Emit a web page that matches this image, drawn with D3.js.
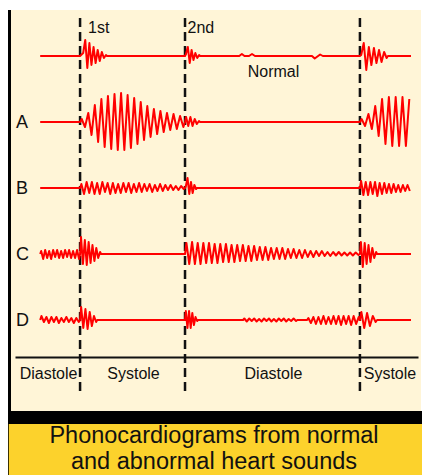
<!DOCTYPE html>
<html><head><meta charset="utf-8">
<script src="https://cdn.jsdelivr.net/npm/d3@7"></script>
<style>html,body{margin:0;padding:0;background:#fff;} svg{display:block;}</style>
</head><body>
<svg id="c" width="422" height="475"></svg>
<script>
// ---------- data (time in ms, S1 = 0; amplitudes in arbitrary units) ----------
const rows = ["Normal", "A", "B", "C", "D"];
const rowLetters = ["", "A", "B", "C", "D"];
const soundMarks = [{label: "1st", t: 0}, {label: "2nd", t: 300}, {label: "", t: 800}];
const phases = [
  {label: "Diastole", from: -186, to: 0},
  {label: "Systole", from: 0, to: 300},
  {label: "Diastole", from: 300, to: 800},
  {label: "Systole", from: 800, to: 966}
];
const timeSpan = [-186, 966];
const traceSpan = [-114, 946];
const normalLabel = "Normal";
const titleLines = ["Phonocardiograms from normal", "and abnormal heart sounds"];

const traceNormal = [
  {start: 0, end: 77, peaks: [1, 3, 16, -12, 13, -9, 9, -7, 6, -5, 4, -2, 1]},
  {start: 300, end: 343, peaks: [2, 9, -7, 6, -4, 3, -2, 1]},
  {start: 455, end: 470, peaks: [2]},
  {start: 483, end: 500, peaks: [2]},
  {start: 663, end: 694, peaks: [-2.5, 1.5]},
  {start: 800, end: 880, peaks: [1, 13, -14, 9, -9, 8, -7, 6, -6, 4, -2]}
];
const traceA = [
  {start: 0, end: 300, peaks: [3, -5, 9, -13, 17, -20, 23, -25, 26, -27, 28, -28, 29, -28, 27, -26,
                               24, -22, 20, -18, 16, -15, 13, -12, 11, -10, 9, -8, 8, -7, 6, -5]},
  {start: 300, end: 343, peaks: [5, -4, 5, -4, 3, -2, 1]},
  {start: 800, end: 946, open: true, peaks: [3, -4, 8, -7, 16, -14, 23, -22, 25, -24, 25, -24, 25, -24, 23]}
];
const traceB = [
  {start: 0, end: 300, peaks: [4, -6, 6, -5, 6, -6, 5, -6, 6, -4, 5, -6, 5, -5, 4, -5, 5, -4, 5, -5,
                               4, -4, 5, -4, 4, -3, 4, -4, 3, -3, 4, -3, 3, -2, 3, -2, 2, -2, 2, -1]},
  {start: 300, end: 334, peaks: [2, 10, -6, 6, -5, 3, -1]},
  {start: 800, end: 946, open: true, peaks: [7, -7, 6, -7, 6, -6, 6, -8, 5, -6, 5, -5, 4, -5, 4, -4, 3, -4, 3, -3, 3, -3]}
];
const traceC = [
  {start: -114, end: 0, peaks: [3, -5, 4, -4, 3, -5, 4, -3, 4, -4, 3, -4, 4, -3, 4, -4, 3, -4, 4, -5]},
  {start: 0, end: 60, peaks: [17, -10, 14, -11, 12, -9, 9, -7, 6, -4, 2]},
  {start: 300, end: 800, peaks: [11, -10, 12, -10, 11, -10, 11, -9, 11, -9,
                                 10, -9, 10, -8, 10, -8, 9, -8, 9, -7,
                                 9, -7, 8, -7, 8, -6, 7, -6, 7, -6,
                                 6, -5, 6, -5, 6, -5, 5, -4, 5, -4,
                                 4, -4, 4, -3, 3, -3, 3, -2, 3, -2,
                                 2, -2, 2, -1.5, 2, -1.5, 1.5, -1.5, 1.5, -1.5, 1.5, -1]},
  {start: 800, end: 849, peaks: [12, -13, 11, -10, 9, -8, 6, -4, 2]}
];
const traceD = [
  {start: -114, end: 0, peaks: [4, -2, 3, -3, 3, -2, 3, -3, 2, -2, 3, -2, 2, -3, 2, -2]},
  {start: 0, end: 49, peaks: [13, -8, 11, -9, 8, -6, 4, -2]},
  {start: 300, end: 337, peaks: [9, -8, 9, -8, 7, -5, 3, -1]},
  {start: 466, end: 621, peaks: [1.5, -1.5, 1.5, -1, 1.5, -1.5, 1, -1.5, 1.5, -1, 1.5, -1.5, 1, -1.5, 1.5, -1, 1.5, -1.5, 1, -1, 1.5, -1]},
  {start: 649, end: 800, peaks: [2, -3, 3, -4, 3, -4, 4, -4, 3, -4, 4, -4, 4, -5, 4, -4, 4, -5, 4, -4, 3]},
  {start: 800, end: 849, peaks: [8, -8, 7, -6, 4, -2]}
];
const traces = [traceNormal, traceA, traceB, traceC, traceD];

// ---------- drawing ----------
const W = 422, H = 475;
const svg = d3.select("#c");
const font = "Arial, 'Liberation Sans', Helvetica, sans-serif";

svg.append("rect").attr("x", 0).attr("y", 0).attr("width", W).attr("height", H).attr("fill", "#ffffff");
svg.append("rect").attr("x", 11).attr("y", 10).attr("width", 410).attr("height", 401).attr("fill", "#FFF5D7");
svg.append("rect").attr("x", 8).attr("y", 10).attr("width", 3).attr("height", 402).attr("fill", "#000");
svg.append("rect").attr("x", 8).attr("y", 411).attr("width", W - 8).attr("height", 13).attr("fill", "#000");
svg.append("rect").attr("x", 8).attr("y", 424).attr("width", W - 8).attr("height", H - 424).attr("fill", "#FCD22C");
svg.append("rect").attr("x", 8).attr("y", 424).attr("width", 1).attr("height", H - 424).attr("fill", "#3a3000");

const x = d3.scaleLinear().domain(timeSpan).range([15, 418]);
const yRow = d3.scalePoint().domain(rows).range([56, 320]);
const amp = d3.scaleLinear().domain([-30, 30]).range([30, -30]);

// horizontal time axis (domain line only)
const axis = d3.axisBottom(x).tickValues([]).tickSizeOuter(0);
const axisG = svg.append("g").attr("transform", "translate(0,357)").call(axis);
axisG.select(".domain").attr("stroke", "#111").attr("stroke-width", 2);

// dashed event lines
svg.append("g").selectAll("line").data(soundMarks).join("line")
  .attr("x1", d => x(d.t)).attr("x2", d => x(d.t))
  .attr("y1", 18).attr("y2", 391)
  .attr("stroke", "#111").attr("stroke-width", 2.5)
  .attr("stroke-dasharray", "9,5");

// build trace points
function tracePoints(bursts) {
  const pts = [[traceSpan[0], 0]];
  let openEnd = false;
  bursts.forEach(b => {
    pts.push([b.start, 0]);
    const n = b.peaks.length;
    const step = (b.end - b.start) / n;
    b.peaks.forEach((p, i) => pts.push([b.start + (i + 0.5) * step, p]));
    if (!b.open) pts.push([b.end, 0]); else openEnd = true;
  });
  if (!openEnd) pts.push([traceSpan[1], 0]);
  return pts;
}

const line = d3.line().x(d => x(d[0])).y(d => amp(d[1])).curve(d3.curveLinear);

const rowG = svg.append("g").selectAll("g").data(rows).join("g")
  .attr("transform", d => `translate(0,${yRow(d)})`);
rowG.append("path")
  .attr("d", (d, i) => line(tracePoints(traces[i])))
  .attr("fill", "none").attr("stroke", "#FF0000").attr("stroke-width", 2)
  .attr("stroke-linejoin", "round");
rowG.append("text")
  .text((d, i) => rowLetters[i])
  .attr("x", 16).attr("y", 6)
  .attr("font-family", font).attr("font-size", 18).attr("fill", "#111");

// sound labels
svg.append("g").selectAll("text").data(soundMarks.filter(d => d.label)).join("text")
  .text(d => d.label)
  .attr("x", (d, i) => x(d.t) + (i === 0 ? 8 : 2.5)).attr("y", 33)
  .attr("font-family", font).attr("font-size", 16).attr("fill", "#111");

// "Normal" label
svg.append("text").text(normalLabel)
  .attr("x", x((phases[2].from + phases[2].to) / 2) + 1).attr("y", yRow("Normal") + 21)
  .attr("text-anchor", "middle")
  .attr("font-family", font).attr("font-size", 16).attr("fill", "#111");

// phase labels
svg.append("g").selectAll("text").data(phases).join("text")
  .text(d => d.label)
  .attr("x", d => x((d.from + d.to) / 2) + 1).attr("y", 379)
  .attr("text-anchor", "middle")
  .attr("font-family", font).attr("font-size", 16).attr("fill", "#111");

// title
svg.append("g").selectAll("text").data(titleLines).join("text")
  .text(d => d)
  .attr("x", 214).attr("y", (d, i) => 443 + i * 26)
  .attr("text-anchor", "middle")
  .attr("font-family", font).attr("font-size", 23.5).attr("fill", "#111");
</script>
</body></html>
